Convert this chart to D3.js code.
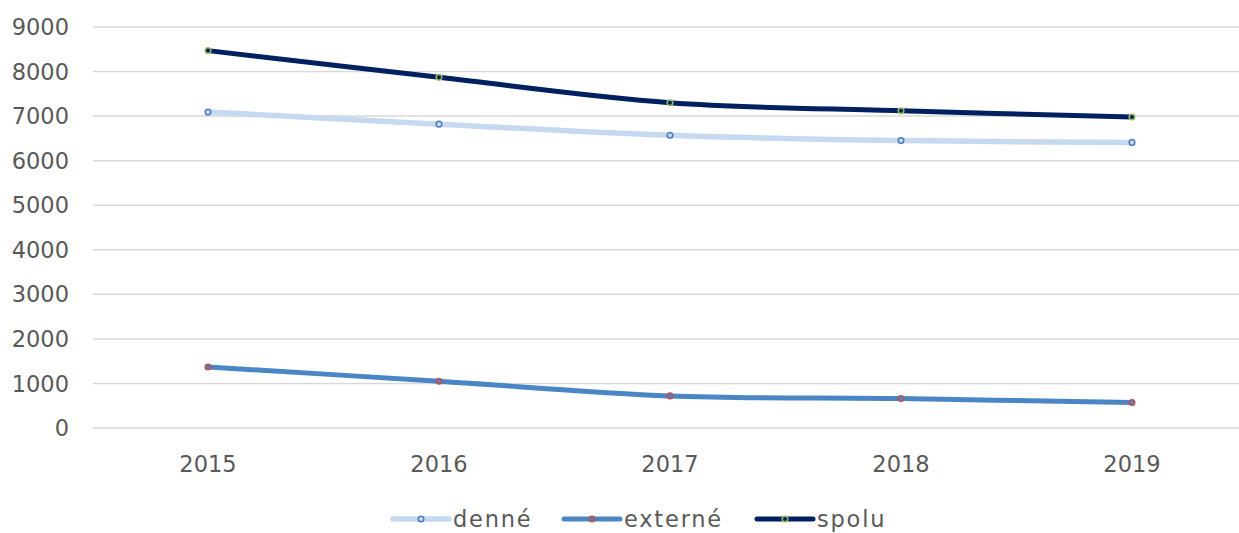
<!DOCTYPE html>
<html><head><meta charset="utf-8">
<script src="https://cdn.jsdelivr.net/npm/d3@7"></script>
<style>body{margin:0;background:#fff;}svg{display:block;font-family:"DejaVu Sans","Noto Sans",sans-serif;}</style>
</head><body><svg id="c" width="1239" height="533"></svg>
<script>
const years = ["2015","2016","2017","2018","2019"];
const denne = [7090, 6820, 6570, 6450, 6410];
const externe = [1370, 1050, 720, 660, 570];
const spolu = [8470, 7870, 7300, 7120, 6980];
const yTicks = [0,1000,2000,3000,4000,5000,6000,7000,8000,9000];
const seriesNames = ["denné","externé","spolu"];

const svg = d3.select("#c");
const W = 1239;
const FS = 22.5;
const x = d3.scaleBand().domain(years).range([92.5, 1247.5]);
const y = d3.scaleLinear().domain([0,9000]).range([428, 27]);

svg.append("g").selectAll("line").data(yTicks).join("line")
  .attr("x1", 93).attr("x2", W).attr("y1", d=>y(d)).attr("y2", d=>y(d))
  .attr("stroke", "#d9d9d9").attr("stroke-width", 1.5);

svg.append("g").selectAll("text").data(yTicks).join("text")
  .attr("x", 69).attr("y", d=>y(d)).attr("dy","0.36em").attr("text-anchor","end")
  .attr("font-size", FS).attr("fill","#595959").text(d=>d);

svg.append("g").selectAll("text").data(years).join("text")
  .attr("x", d=>x(d)+x.bandwidth()/2).attr("y", 464).attr("dy","0.36em").attr("text-anchor","middle")
  .attr("font-size", FS).attr("fill","#595959").text(d=>d);

const series = [
  {name: seriesNames[0], vals: denne, color:"#c6d9f1", mstroke:"#4a7ebb", mfill:"#c6d9f1", w:5.5},
  {name: seriesNames[1], vals: externe, color:"#4a86c6", mstroke:"#c0504d", mfill:"#4a86c6", w:5},
  {name: seriesNames[2], vals: spolu, color:"#002060", mstroke:"#9bbb59", mfill:"#002060", w:5}
];
const line = d3.line().x((d,i)=>x(years[i])+x.bandwidth()/2).y(d=>y(d)).curve(d3.curveCardinal.tension(0));
series.forEach(s=>{
  svg.append("path").datum(s.vals).attr("d", line).attr("fill","none")
    .attr("stroke", s.color).attr("stroke-width", s.w).attr("stroke-linecap","round");
  svg.append("g").selectAll("circle").data(s.vals).join("circle")
    .attr("cx",(d,i)=>x(years[i])+x.bandwidth()/2).attr("cy",d=>y(d)).attr("r",2.8)
    .attr("fill", s.mfill).attr("stroke", s.mstroke).attr("stroke-width",1.5);
});

const legX = [393, 564, 757];
series.forEach((s,i)=>{
  const g = svg.append("g").attr("transform",`translate(${legX[i]},519)`);
  g.append("line").attr("x1",0).attr("x2",56).attr("y1",0).attr("y2",0)
    .attr("stroke", s.color).attr("stroke-width", s.w).attr("stroke-linecap","round");
  g.append("circle").attr("cx",28).attr("cy",0).attr("r",2.8)
    .attr("fill", s.mfill).attr("stroke", s.mstroke).attr("stroke-width",1.5);
  g.append("text").attr("x",60).attr("y",0).attr("dy","0.36em").attr("font-size",FS)
    .attr("letter-spacing", 1.8)
    .attr("fill","#595959").text(s.name);
});
</script></body></html>
